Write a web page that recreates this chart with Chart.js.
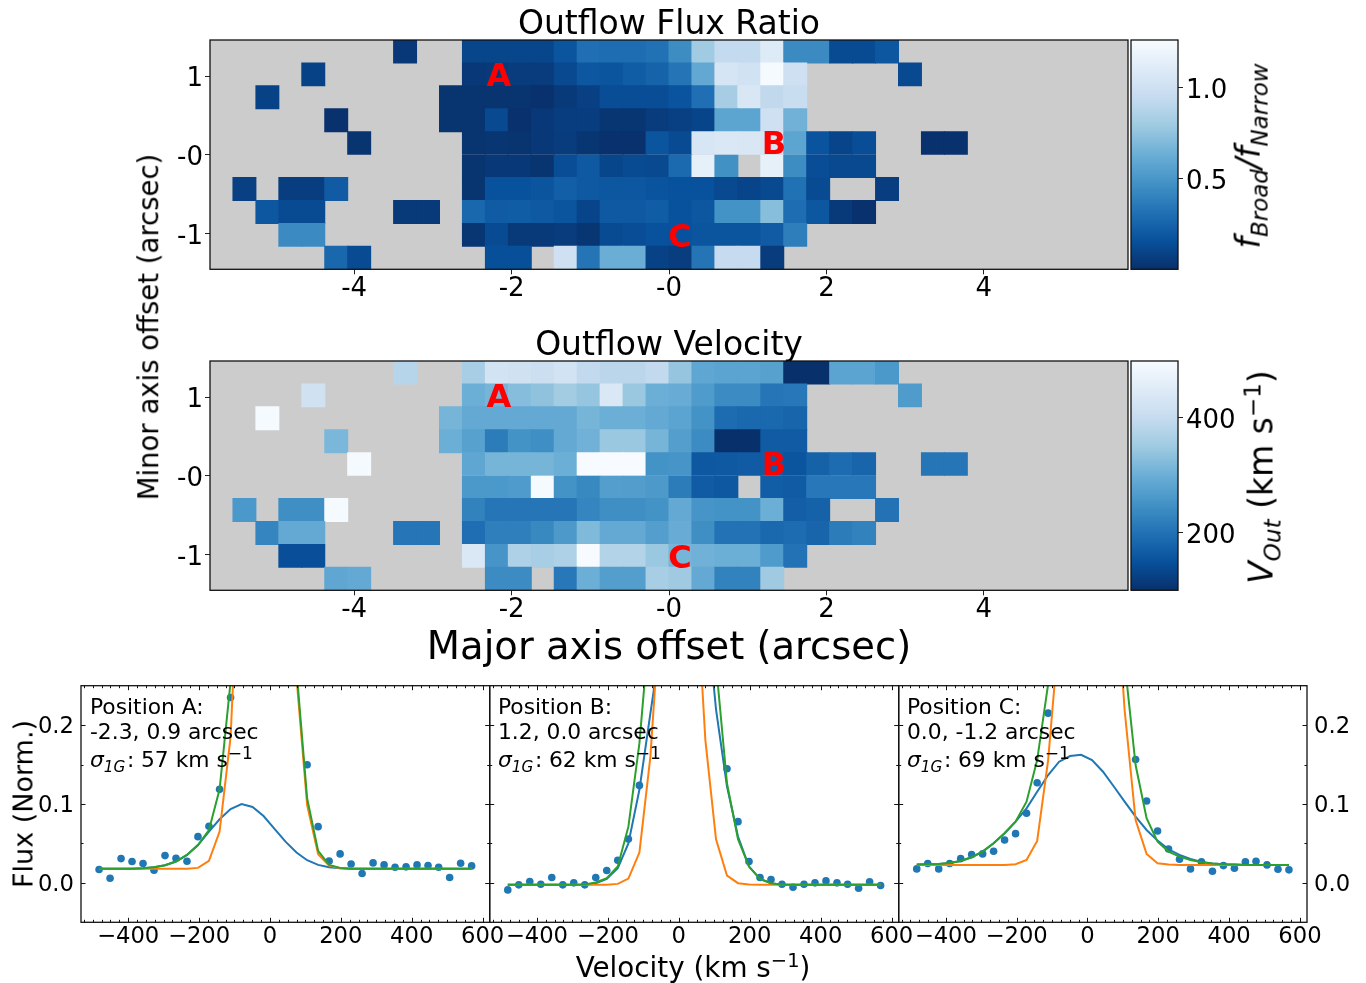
<!DOCTYPE html>
<html>
<head>
<meta charset="utf-8">
<title>Outflow maps and spectra</title>
<script src="https://cdn.jsdelivr.net/npm/chart.js@4/dist/chart.umd.js"></script>
<style>
  html, body { margin: 0; padding: 0; background: #fff; width: 1366px; height: 983px; overflow: hidden; }
  canvas { position: absolute; left: 0; top: 0; }
  .lbl { position: absolute; white-space: nowrap; color: #000; font-family: "DejaVu Sans", sans-serif; line-height: 1; z-index: 5; }
  .mid { transform: translate(-50%, -50%); }
  .rot { transform: translate(-50%, -50%) rotate(-90deg); }
  .note { font-size: 21.8px; }
  .colon { margin: 0 .3em 0 .08em; }
  sub, sup { font-size: .7em; line-height: 0; }
  .note sup { font-size: .78em; }
</style>
</head>
<body>
<canvas id="fluxMap" width="1366" height="983"></canvas>
<canvas id="fluxBar" width="1366" height="983"></canvas>
<canvas id="velMap" width="1366" height="983"></canvas>
<canvas id="velBar" width="1366" height="983"></canvas>
<canvas id="panelA" width="1366" height="983"></canvas>
<canvas id="panelB" width="1366" height="983"></canvas>
<canvas id="panelC" width="1366" height="983"></canvas>

<div class="lbl rot" style="left:149px;top:327px;font-size:27.5px">Minor axis offset (arcsec)</div>
<div class="lbl mid" style="left:669px;top:646px;font-size:38.5px">Major axis offset (arcsec)</div>
<div class="lbl rot" style="left:1249px;top:156px;font-size:32.8px"><i>f<sub>Broad</sub>/f<sub>Narrow</sub></i></div>
<div class="lbl rot" style="left:1261px;top:477px;font-size:33px"><i>V<sub>Out</sub></i> (km s<sup>−1</sup>)</div>
<div class="lbl rot" style="left:23px;top:804px;font-size:27px">Flux (Norm.)</div>
<div class="lbl mid" style="left:693px;top:968px;font-size:27.8px">Velocity (km s<sup>−1</sup>)</div>

<div class="lbl note" style="left:90px;top:696px">Position A:</div>
<div class="lbl note" style="left:90px;top:721px">-2.3, 0.9 arcsec</div>
<div class="lbl note" style="left:90px;top:749px"><i>σ<sub>1G</sub></i><span class="colon">:</span>57 km s<sup>−1</sup></div>
<div class="lbl note" style="left:498px;top:696px">Position B:</div>
<div class="lbl note" style="left:498px;top:721px">1.2, 0.0 arcsec</div>
<div class="lbl note" style="left:498px;top:749px"><i>σ<sub>1G</sub></i><span class="colon">:</span>62 km s<sup>−1</sup></div>
<div class="lbl note" style="left:907px;top:696px">Position C:</div>
<div class="lbl note" style="left:907px;top:721px">0.0, -1.2 arcsec</div>
<div class="lbl note" style="left:907px;top:749px"><i>σ<sub>1G</sub></i><span class="colon">:</span>69 km s<sup>−1</sup></div>

<script>
const _ = null;

// f_Broad / f_Narrow per spaxel, top row first, null = masked
const fluxRatio = [
  [_,_,_,_,_,_,_,_,.04,_,_,.11,.11,.11,.11,.18,.31,.30,.30,.32,.45,.80,.94,.94,1.10,.44,.44,.13,.13,.19,_,_,_,_,_,_,_,_,_,_],
  [_,_,_,_,.09,_,_,_,_,_,_,.04,.05,.06,.06,.12,.19,.18,.22,.25,.33,.60,1.05,1.02,1.25,1.00,_,_,_,_,.12,_,_,_,_,_,_,_,_,_],
  [_,_,.09,_,_,_,_,_,_,_,.02,.02,.02,.02,.01,.05,.08,.14,.14,.14,.17,.31,.82,1.07,.93,.97,_,_,_,_,_,_,_,_,_,_,_,_,_,_],
  [_,_,_,_,_,.01,_,_,_,_,.02,.02,.12,.01,.04,.07,.07,.03,.03,.06,.08,.10,.58,.58,1.00,.65,_,_,_,_,_,_,_,_,_,_,_,_,_,_],
  [_,_,_,_,_,_,.02,_,_,_,_,.02,.03,.02,.04,.06,.03,.01,.01,.18,.13,1.06,1.08,1.07,1.05,.58,.17,.10,.14,_,_,.01,.01,_,_,_,_,_,_,_],
  [_,_,_,_,_,_,_,_,_,_,_,.02,.04,.04,.02,.14,.20,.11,.13,.12,.28,1.15,.47,_,1.15,.45,.14,.12,.12,_,_,_,_,_,_,_,_,_,_,_],
  [_,.08,_,.07,.07,.21,_,_,_,_,_,.02,.16,.16,.18,.23,.20,.19,.19,.17,.16,.16,.12,.10,.12,.32,.13,_,_,.07,_,_,_,_,_,_,_,_,_,_],
  [_,_,.19,.13,.13,_,_,_,.05,.05,_,.27,.21,.22,.20,.18,.10,.20,.20,.22,.16,.19,.48,.48,.72,.30,.19,.05,.01,_,_,_,_,_,_,_,_,_,_,_],
  [_,_,_,.44,.44,_,_,_,_,_,_,.03,.13,.05,.05,.06,.03,.13,.14,.16,.16,.18,.18,.18,.21,.38,_,_,_,_,_,_,_,_,_,_,_,_,_,_],
  [_,_,_,_,_,.27,.13,_,_,_,_,_,.15,.15,_,1.00,.33,.63,.63,.09,.07,.33,.95,.95,.06,_,_,_,_,_,_,_,_,_,_,_,_,_,_,_]
];

// V_Out in km/s per spaxel, top row first
const outflowVel = [
  [_,_,_,_,_,_,_,_,380,_,_,360,425,420,410,425,395,385,385,395,340,285,280,280,275,100,100,280,280,260,_,_,_,_,_,_,_,_,_,_],
  [_,_,_,_,420,_,_,_,_,_,_,300,310,325,335,355,340,440,345,300,295,265,240,240,205,210,_,_,_,_,265,_,_,_,_,_,_,_,_,_],
  [_,_,495,_,_,_,_,_,_,_,310,290,290,290,290,290,310,300,300,290,280,250,190,185,185,180,_,_,_,_,_,_,_,_,_,_,_,_,_,_],
  [_,_,_,_,_,315,_,_,_,_,300,275,215,250,245,290,305,345,345,310,270,240,100,100,165,165,_,_,_,_,_,_,_,_,_,_,_,_,_,_],
  [_,_,_,_,_,_,495,_,_,_,_,285,310,310,310,300,498,498,498,250,255,160,162,165,165,155,175,190,180,_,_,205,205,_,_,_,_,_,_,_],
  [_,_,_,_,_,_,_,_,_,_,_,260,260,265,495,250,235,270,268,262,215,165,160,_,168,165,210,210,210,_,_,_,_,_,_,_,_,_,_,_],
  [_,260,_,245,245,495,_,_,_,_,_,225,205,205,205,205,230,245,245,250,290,255,250,250,300,170,175,_,_,200,_,_,_,_,_,_,_,_,_,_],
  [_,_,230,290,290,_,_,_,205,205,_,195,220,220,235,262,320,290,290,270,295,245,200,200,185,190,180,215,225,_,_,_,_,_,_,_,_,_,_,_],
  [_,_,_,145,145,_,_,_,_,_,_,440,255,370,360,370,498,375,375,345,310,305,300,300,265,200,_,_,_,_,_,_,_,_,_,_,_,_,_,_],
  [_,_,_,_,_,285,290,_,_,_,_,_,240,240,_,210,300,270,270,360,350,290,225,225,350,_,_,_,_,_,_,_,_,_,_,_,_,_,_,_]
];

// map axes
const mapHalfX = 5.832;
const mapHalfY = 1.458;
const mapCell = 0.2916;
const mapXTicks = [-4, -2, 0, 2, 4];
const mapXLabels = ['-4', '-2', '-0', '2', '4'];
const mapYTicks = [1, 0, -1];
const mapYLabels = ['1', '-0', '-1'];

// position markers
const markerNames = ['A', 'B', 'C'];
const markerX = [-2.32, 1.18, -0.01];
const markerY = [0.87, 0.01, -1.17];

// colour bar ranges and ticks
const fluxRange = [0.003, 1.262];
const fluxTicks = [0.5, 1.0];
const velRange = [99, 499];
const velTicks = [200, 400];

// spectra: shared velocity channels in km/s
const velocity = [-482,-451,-420,-389,-358,-327,-296,-265,-234,-203,-172,-142,-111,-80,-49,-18,13,44,75,105,136,167,198,229,260,291,322,353,384,415,446,476,507,538,569];

const dataA = [.0169,.0059,.0308,.027,.0245,.016,.0346,.0312,.0274,.0586,.0717,.1186,.235,.45,.8,1,1,.8,.45,.1498,.0713,.0278,.0367,.024,.0118,.0253,.0228,.0198,.0203,.0228,.0219,.0198,.0068,.0249,.0215];
const broadA = [.018,.018,.018,.018,.0186,.0198,.0224,.027,.0354,.048,.065,.0806,.0937,.1,.0962,.0848,.0684,.0523,.0384,.0287,.0228,.0198,.0186,.018,.018,.018,.018,.018,.018,.018,.018,.018,.018,.018,.018];
const narrowA = [.018,.018,.018,.018,.018,.018,.018,.018,.018,.019,.0278,.065,.185,.49,.75,.95,.95,.7,.26,.0987,.0363,.022,.0186,.018,.018,.018,.018,.018,.018,.018,.018,.018,.018,.018,.018];
const totalA = [.018,.018,.018,.018,.0186,.0198,.0224,.027,.0354,.048,.067,.1186,.255,.55,.85,1.03,1.02,.76,.27,.107,.0405,.0228,.019,.018,.018,.018,.018,.018,.018,.018,.018,.018,.018,.018,.018];

const dataB = [-.0089,-.0025,.0017,-.0017,.0068,-.0025,0,-.0025,.0068,.0156,.0287,.0557,.1236,.3,.6,.95,1,.8,.5,.27,.1447,.0776,.027,.0068,.0042,-.0017,-.0055,-.0017,0,.0025,0,-.0017,-.0068,.0013,-.0034];
const broadB = [-.0025,-.0025,-.0025,-.0025,-.0025,-.0025,-.0025,-.0025,-.0004,.005,.0186,.05,.118,.215,.31,.55,.6,.5,.36,.22,.122,.0587,.0207,.005,-.0004,-.0025,-.0025,-.0025,-.0025,-.0025,-.0025,-.0025,-.0025,-.0025,-.0025];
const narrowB = [-.0025,-.0025,-.0025,-.0025,-.0025,-.0025,-.0025,-.0025,-.0025,-.0025,-.0013,.0055,.0384,.16,.37,.7,.9,.42,.181,.0553,.0093,-.0004,-.0021,-.0025,-.0025,-.0025,-.0025,-.0025,-.0025,-.0025,-.0025,-.0025,-.0025,-.0025,-.0025];
const totalB = [-.0025,-.0025,-.0025,-.0025,-.0025,-.0025,-.0025,-.0021,.0004,.006,.0207,.0713,.1768,.34,.65,1,1.02,.9,.6,.277,.126,.0553,.0207,.005,-.0004,-.0025,-.0025,-.0025,-.0025,-.0025,-.0025,-.0025,-.0025,-.0025,-.0025];

const dataC = [.0177,.0245,.0177,.0245,.0308,.0359,.0367,.0401,.0544,.0624,.0882,.127,.2152,.42,.75,1,1,.75,.5,.28,.1565,.1038,.0658,.043,.03,.0177,.0266,.0148,.0219,.0186,.0266,.0274,.0228,.0173,.0165];
const broadC = [.0232,.0236,.024,.0253,.0278,.0325,.0397,.0502,.0629,.0776,.0945,.1156,.1367,.1536,.1608,.1624,.1557,.1409,.1219,.103,.084,.0671,.0536,.0426,.0354,.0304,.0266,.0245,.0236,.0232,.0228,.0228,.0228,.0228,.0228];
const narrowC = [.0228,.0228,.0228,.0228,.0228,.0228,.0228,.0228,.0228,.0236,.0291,.0532,.1557,.32,.72,.9,.88,.7,.42,.219,.0797,.0367,.0249,.0232,.0228,.0228,.0228,.0228,.0228,.0228,.0228,.0228,.0228,.0228,.0228];
const totalC = [.0232,.0236,.024,.0253,.0278,.0325,.0397,.0502,.0629,.0776,.103,.1557,.252,.45,.8,1.02,1.03,.85,.6,.28,.1494,.0819,.0523,.0397,.0333,.0291,.0262,.0245,.0236,.0232,.0228,.0228,.0228,.0228,.0228];

// spectra axes
const specXRange = [-533, 620];
const specYRange = [-0.05, 0.25];
const specXTicks = [-400, -200, 0, 200, 400, 600];
const specYTicks = [0, 0.1, 0.2];
const specYMinor = [0.05, 0.15];
const specXMinorStep = 25;

const BLUES_R = ['#08306b', '#08519c', '#2171b5', '#4292c6', '#6baed6', '#9ecae1', '#c6dbef', '#deebf7', '#f7fbff'];

Chart.defaults.font.family = '"DejaVu Sans", sans-serif';
Chart.defaults.color = '#000';

function hexToRgb(hex) {
  return [1, 3, 5].map(i => parseInt(hex.slice(i, i + 2), 16));
}

// same lookup as matplotlib's Blues_r, linear between the nine stops
function bluesColour(t) {
  const pos = Math.min(Math.max(t, 0), 1) * (BLUES_R.length - 1);
  const low = Math.min(Math.floor(pos), BLUES_R.length - 2);
  const a = hexToRgb(BLUES_R[low]);
  const b = hexToRgb(BLUES_R[low + 1]);
  const f = pos - low;
  return `rgb(${a.map((v, i) => Math.round(v + (b[i] - v) * f)).join(',')})`;
}

const framePlugin = {
  id: 'frame',
  beforeDatasetsDraw(chart, args, opts) {
    if (!opts.fill) return;
    const a = chart.chartArea;
    chart.ctx.fillStyle = opts.fill;
    chart.ctx.fillRect(a.left, a.top, a.width, a.height);
  },
  afterDatasetsDraw(chart, args, opts) {
    const a = chart.chartArea;
    chart.ctx.strokeStyle = opts.color || '#111';
    chart.ctx.lineWidth = opts.width || 1.3;
    chart.ctx.strokeRect(a.left, a.top, a.width, a.height);
  }
};

const markerPlugin = {
  id: 'markers',
  afterDatasetsDraw(chart) {
    const ctx = chart.ctx;
    ctx.save();
    ctx.fillStyle = '#ff0000';
    ctx.font = 'bold 32px "DejaVu Sans"';
    ctx.textAlign = 'left';
    ctx.textBaseline = 'alphabetic';
    markerNames.forEach((name, i) => {
      ctx.fillText(name, chart.scales.x.getPixelForValue(markerX[i]), chart.scales.y.getPixelForValue(markerY[i]));
    });
    ctx.restore();
  }
};

// inward ticks on all four sides of a spectrum panel
const innerTicksPlugin = {
  id: 'innerTicks',
  afterDatasetsDraw(chart) {
    const ctx = chart.ctx;
    const a = chart.chartArea;
    const xs = chart.scales.x;
    const ys = chart.scales.y;
    ctx.save();
    ctx.strokeStyle = '#111';
    ctx.lineWidth = 1;
    const mark = (x1, y1, x2, y2) => {
      ctx.beginPath();
      ctx.moveTo(x1, y1);
      ctx.lineTo(x2, y2);
      ctx.stroke();
    };
    const xTick = (value, len) => {
      const px = Math.round(xs.getPixelForValue(value)) + 0.5;
      mark(px, a.bottom, px, a.bottom - len);
      mark(px, a.top, px, a.top + len);
    };
    const yTick = (value, len) => {
      const py = Math.round(ys.getPixelForValue(value)) + 0.5;
      mark(a.left, py, a.left + len, py);
      mark(a.right, py, a.right - len, py);
    };
    for (let v = -525; v <= 600; v += specXMinorStep) xTick(v, 2.5);
    specXTicks.forEach(v => xTick(v, 4.5));
    specYMinor.forEach(v => yTick(v, 2.5));
    specYTicks.forEach(v => yTick(v, 4.5));
    ctx.restore();
  }
};

function fixedTicks(values) {
  return axis => { axis.ticks = values.map(value => ({ value })); };
}

// a value map: one floating bar per filled spaxel
function mapChart(id, title, rows, range, plot) {
  const cells = [];
  const colours = [];
  rows.forEach((row, r) => {
    row.forEach((value, c) => {
      if (value === null) return;
      const top = mapHalfY - r * mapCell;
      cells.push({ x: -mapHalfX + (c + 0.5) * mapCell, y: [top - mapCell, top] });
      colours.push(bluesColour((value - range[0]) / (range[1] - range[0])));
    });
  });
  return new Chart(document.getElementById(id), {
    type: 'bar',
    data: { datasets: [{ data: cells, backgroundColor: colours, barPercentage: 1, categoryPercentage: 1, grouped: false, inflateAmount: 0.5 }] },
    plugins: [framePlugin, markerPlugin],
    options: {
      responsive: false,
      animation: false,
      events: [],
      layout: { padding: { left: 170, right: 1366 - 1128, top: plot.top - 39, bottom: 983 - plot.bottom - 40 } },
      plugins: {
        legend: { display: false },
        tooltip: { enabled: false },
        frame: { fill: '#cccccc' },
        title: { display: true, fullSize: false, text: title, color: '#000', font: { size: 33, weight: 'normal', lineHeight: 1 }, padding: { top: 8, bottom: -2 } }
      },
      scales: {
        x: {
          type: 'linear',
          offset: false,
          min: -mapHalfX,
          max: mapHalfX,
          afterBuildTicks: fixedTicks(mapXTicks),
          afterFit: s => { s.height = 40; },
          grid: { offset: false, drawOnChartArea: false, tickLength: 5, tickColor: '#222' },
          border: { display: false },
          ticks: { autoSkip: false, maxRotation: 0, padding: -1, font: { size: 26 }, callback: v => mapXLabels[mapXTicks.indexOf(v)] }
        },
        y: {
          min: -mapHalfY,
          max: mapHalfY,
          afterBuildTicks: fixedTicks(mapYTicks),
          afterFit: s => { s.width = 40; },
          grid: { drawOnChartArea: false, tickLength: 5, tickColor: '#222' },
          border: { display: false },
          ticks: { autoSkip: false, padding: 2, labelOffset: 3.5, font: { size: 26 }, callback: v => mapYLabels[mapYTicks.indexOf(v)] }
        }
      }
    }
  });
}

function colourBar(id, range, ticks, plot, format) {
  return new Chart(document.getElementById(id), {
    type: 'bar',
    data: {
      labels: [''],
      datasets: [{
        data: [range],
        barPercentage: 1,
        categoryPercentage: 1,
        backgroundColor: ctx => {
          const area = ctx.chart.chartArea;
          if (!area) return BLUES_R[0];
          const g = ctx.chart.ctx.createLinearGradient(0, area.bottom, 0, area.top);
          BLUES_R.forEach((c, i) => g.addColorStop(i / (BLUES_R.length - 1), c));
          return g;
        }
      }]
    },
    plugins: [framePlugin],
    options: {
      responsive: false,
      animation: false,
      events: [],
      layout: { padding: { left: 1131, right: 1366 - 1178 - 60, top: plot.top, bottom: 983 - plot.bottom } },
      plugins: { legend: { display: false }, tooltip: { enabled: false } },
      scales: {
        x: { display: false },
        y: {
          position: 'right',
          min: range[0],
          max: range[1],
          afterBuildTicks: fixedTicks(ticks),
          afterFit: s => { s.width = 60; },
          grid: { drawOnChartArea: false, tickLength: 5, tickColor: '#222' },
          border: { display: false },
          ticks: { autoSkip: false, padding: 3, labelOffset: 3.5, font: { size: 26 }, callback: format }
        }
      }
    }
  });
}

function spectrum(id, left, right, yLabels, data, broad, narrow, total) {
  const points = ys => ys.map((y, i) => ({ x: velocity[i], y }));
  const line = (ys, colour, order) => ({ data: points(ys), borderColor: colour, borderWidth: 2, pointRadius: 0, tension: 0, order });
  const onRight = yLabels === 'right';
  return new Chart(document.getElementById(id), {
    type: 'line',
    data: {
      datasets: [
        { data: points(data), showLine: false, pointRadius: 3.8, pointBorderWidth: 0, pointBackgroundColor: '#1f77b4', order: 4 },
        line(broad, '#1f77b4', 3),
        line(narrow, '#ff7f0e', 2),
        line(total, '#2ca02c', 1)
      ]
    },
    plugins: [framePlugin, innerTicksPlugin],
    options: {
      responsive: false,
      animation: false,
      events: [],
      layout: {
        padding: {
          left: onRight ? left : left - 50,
          right: onRight ? 1366 - right - 50 : 1366 - right,
          top: 685.7,
          bottom: 983 - 922.3 - 40
        }
      },
      plugins: { legend: { display: false }, tooltip: { enabled: false } },
      scales: {
        x: {
          type: 'linear',
          min: specXRange[0],
          max: specXRange[1],
          afterBuildTicks: fixedTicks(specXTicks),
          afterFit: s => { s.height = 40; },
          grid: { display: false, drawTicks: false },
          border: { display: false },
          ticks: { autoSkip: false, maxRotation: 0, padding: 1, font: { size: 22.7 }, callback: v => String(v).replace('-', '\u2212') }
        },
        y: {
          position: onRight ? 'right' : 'left',
          min: specYRange[0],
          max: specYRange[1],
          afterBuildTicks: fixedTicks(specYTicks),
          afterFit: s => { s.width = 50; },
          grid: { display: false, drawTicks: false },
          border: { display: false },
          ticks: { display: yLabels !== 'none', autoSkip: false, padding: 7, labelOffset: 2, font: { size: 22.7 }, callback: v => v.toFixed(1) }
        }
      }
    }
  });
}

mapChart('fluxMap', 'Outflow Flux Ratio', fluxRatio, fluxRange, { top: 40, bottom: 269.3 });
colourBar('fluxBar', fluxRange, fluxTicks, { top: 40, bottom: 269.3 }, v => v.toFixed(1));
mapChart('velMap', 'Outflow Velocity', outflowVel, velRange, { top: 361, bottom: 590.3 });
colourBar('velBar', velRange, velTicks, { top: 361, bottom: 590.3 }, v => String(v));
spectrum('panelA', 81, 489.7, 'left', dataA, broadA, narrowA, totalA);
spectrum('panelB', 489.7, 898.7, 'none', dataB, broadB, narrowB, totalB);
spectrum('panelC', 898.7, 1307, 'right', dataC, broadC, narrowC, totalC);
</script>
</body>
</html>
